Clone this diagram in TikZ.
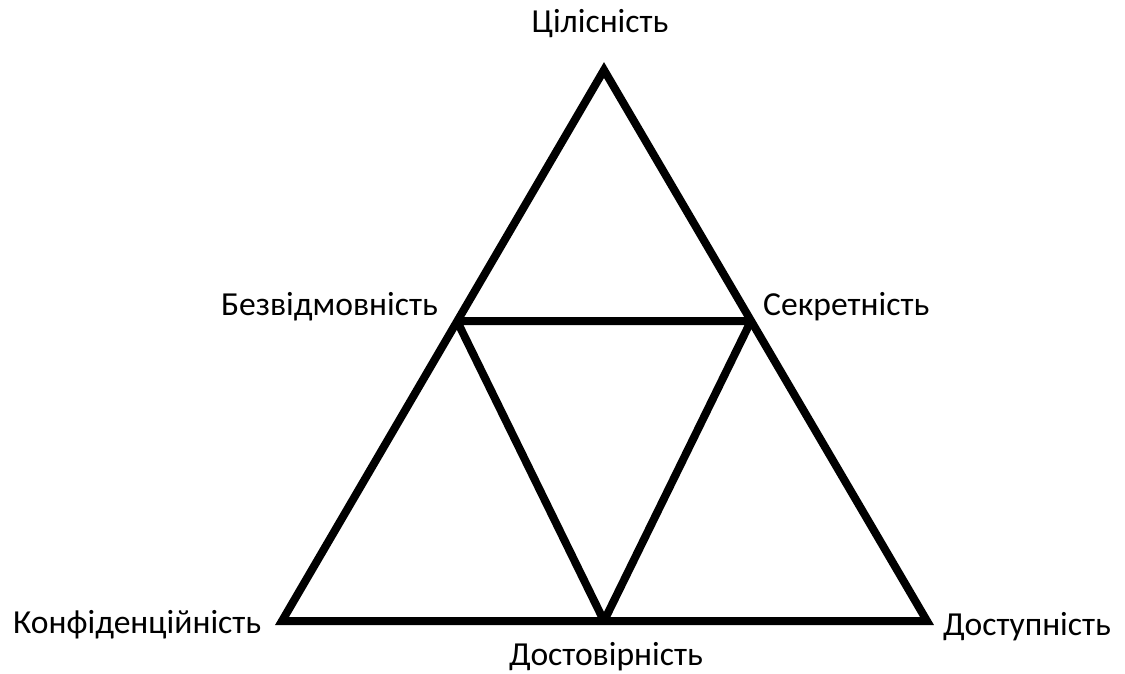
\documentclass[tikz,border=0pt]{standalone}
\usepackage{fontspec}
\setmainfont{Carlito}
\begin{document}
\begin{tikzpicture}[x=1pt,y=-1pt,
  edge/.style={line width=8pt,line join=miter,draw=black},
  inner/.style={line width=8pt,line join=bevel,draw=black},
  lbl/.style={inner sep=0pt,font=\fontsize{33.6}{40}\selectfont}]
\useasboundingbox (0,0) rectangle (1125,674);
\coordinate (A) at (604,70);
\coordinate (B) at (282,621);
\coordinate (C) at (927,621);
\coordinate (L) at (457,321);
\coordinate (R) at (751,321);
\coordinate (M) at (604,621);
\draw[edge] (A) -- (B) -- (C) -- cycle;
\draw[inner] (L) -- (R) -- (M) -- cycle;
\node[lbl,anchor=base] (top) at (600,33) {Цілісність};
\node[lbl,anchor=base east] (left) at (438,315) {Безвідмовність};
\node[lbl,anchor=base west] (right) at (763,315) {Секретність};
\node[lbl,anchor=base west] (bl) at (13,633) {Конфіденційність};
\node[lbl,anchor=base] (bm) at (606,665) {Достовірність};
\node[lbl,anchor=base west] (br) at (943,635) {Доступність};
\end{tikzpicture}
\end{document}
